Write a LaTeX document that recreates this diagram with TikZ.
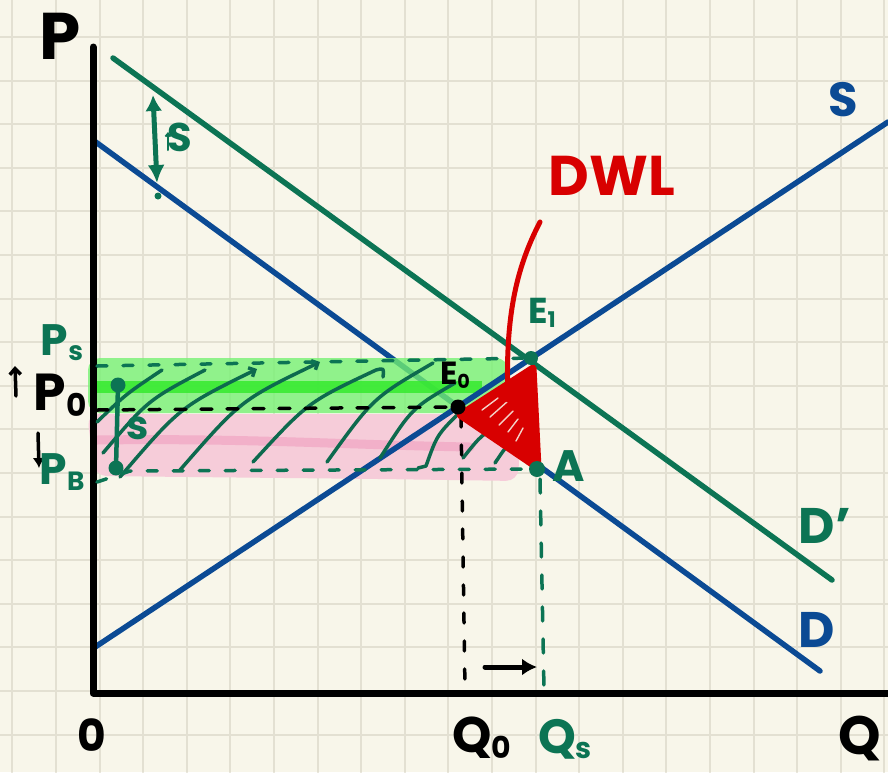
\documentclass[tikz,border=0pt]{standalone}
\usepackage{fontspec}
\setmainfont{Poppins}
\usetikzlibrary{arrows.meta,calc}
\definecolor{paper}{HTML}{F8F6EA}
\definecolor{gridc}{HTML}{E3E0D2}
\definecolor{eblue}{HTML}{0B4A94}
\definecolor{egreen}{HTML}{0C7454}
\definecolor{hgreen}{HTML}{0D6A4E}
\definecolor{ered}{HTML}{D80000}
\definecolor{bandg}{HTML}{74F271}
\definecolor{bandgg}{HTML}{35EA2E}
\definecolor{bandp}{HTML}{F6CCD9}
\definecolor{bandpp}{HTML}{F2B0C9}
\newcommand\myfs[1]{\fontsize{#1}{#1}\selectfont}
\newcommand\lsub[1]{\raisebox{-0.12em}{\scalebox{0.6}{#1}}}
\begin{document}
\begin{tikzpicture}[x=1pt,y=-1pt, line cap=round, line join=round,
  curve/.style={line width=5.5pt},
  lbl/.style={font=\bfseries\myfs{#1}, inner sep=0pt},
  hatch/.style={hgreen, line width=3.5pt},
  gdash/.style={egreen, line width=3.5pt, dash pattern=on 10pt off 16pt},
  kdash/.style={black, line width=3.5pt, dash pattern=on 11pt off 15pt},
  dotg/.style={fill=egreen},
]
\useasboundingbox (0,0) rectangle (888,772);
\fill[paper] (0,0) rectangle (888,772);
\foreach \i in {0,...,20} \draw[gridc, line width=2pt] ({12.3+43.6*\i},0) -- ({12.3+43.6*\i},772);
\foreach \i in {0,...,17} \draw[gridc, line width=2pt] (0,{734.6-43.6*\i}) -- (888,{734.6-43.6*\i});

% key points
\coordinate (E0) at (458,407);
\coordinate (E1) at (531,358);
\coordinate (A) at (537,469);
\coordinate (Sl) at (95.6,646.7);
\coordinate (Sr) at (888,122);
\coordinate (Dl) at (93,140);
\coordinate (Dr) at (820,671);
\coordinate (Dpl) at (113,58);
\coordinate (Dpr) at (832,580);
\coordinate (ytop) at (93,47);
\coordinate (orig) at (93,693);
\coordinate (xend) at (888,693);

% pink band
\fill[bandp, rounded corners=12pt] (87,414) -- (505,414) -- (520,440) -- (518,481) -- (380,479) -- (95,476) -- cycle;
\draw[bandpp, line width=9pt] (97,440) .. controls (250,438) and (350,445) .. (470,447);

% curves
\draw[curve, eblue] (Dl) -- (Dr);
\draw[curve, egreen] (Dpl) -- (Dpr);

% green band
\fill[bandg, opacity=0.78, rounded corners=12pt] (88,358) rectangle (508,413);
\fill[bandgg, opacity=0.85] (92,381) rectangle (482,393);

\draw[curve, eblue] (Sl) -- (Sr);

% axes
\draw[black, line width=7pt] (ytop) -- (orig) -- (xend);

% hatching
\draw[hatch] (97,422) .. controls (126,394) .. (162,370);
\draw[hatch] (103,453) .. controls (148,400) .. (205,370);
\draw[hatch, -{Straight Barb[length=5pt,width=10pt]}] (120,477) .. controls (180,407) .. (257,369);
\draw[hatch, -{Straight Barb[length=5pt,width=10pt]}] (180,470) .. controls (241,400) .. (320,362);
\draw[hatch] (253,462) .. controls (308,402) .. (376,370) .. controls (384,368) .. (383,377);
\draw[hatch] (327,462) .. controls (373,398) .. (433,363);
\draw[hatch] (380,458) .. controls (412,408) .. (455,383);
\draw[hatch] (418,468) -- (426,466) .. controls (437,435) .. (460,412);
\draw[hatch] (463,458) .. controls (482,434) .. (507,422);
\draw[hatch] (495,463) .. controls (507,445) .. (523,432);

% dashed price/quantity lines
\draw[gdash] (97,366) -- (E1);
\draw[kdash] (97,410) -- (E0);
\draw[gdash] (97,482) -- (130,471) -- (A);
\draw[black, line width=3.5pt, dash pattern=on 10pt off 18pt] ($(E0)+(3,10)$) -- (465,690);
\draw[egreen, line width=3.5pt, dash pattern=on 14pt off 18pt] ($(A)+(3,10)$) -- (544,690);
\coordinate (qa) at (485,667);
\coordinate (qb) at (537,667);
\draw[black, line width=5pt, -{Latex[length=15pt,width=17pt]}] (qa) -- (qb);

% DWL triangle and pointer
\coordinate (T1) at (460,415);
\coordinate (T2) at (533,368);
\coordinate (T3) at (538,468);
\fill[ered] (T1) -- (T2) -- (T3) -- cycle;
\draw[ered, line width=7pt] (T1) -- (T2) -- (T3) -- cycle;
\foreach \a/\b in {{(482,410)}/{(498,398)}, {(490,417)}/{(508,401)}, {(499,425)}/{(513,411)}, {(508,432)}/{(518,419)}, {(516,441)}/{(523,428)}}
  \draw[paper, line width=1.4pt, opacity=0.85] \a -- \b;
\coordinate (dwlt) at (540,222);
\draw[ered, line width=5pt] (dwlt) .. controls (515,270) and (505,320) .. (508,400);

% points
\fill[black] (E0) circle (7.5);
\fill[dotg] (E1) circle (7);
\fill[dotg] (A) circle (8);

% subsidy arrows
\coordinate (sa) at (118,385);
\coordinate (sb) at (116,468);
\draw[egreen, line width=4.5pt] (sa) -- (sb);
\fill[egreen] (sa) circle (7.5);
\fill[egreen] (sb) circle (7.5);
\coordinate (ta) at (153,95);
\coordinate (tb) at (157,183);
\draw[egreen, line width=5pt, {Latex[length=16pt,width=17pt]}-{Latex[length=18pt,width=17pt]}] (ta) -- (tb);
\fill[egreen] (158,196) circle (3.5);
\draw[egreen, line width=2pt, -{Straight Barb[length=3pt,width=5pt]}] (168,150) -- (168,132);

% small arrows near P0
\coordinate (ua) at (16,396);
\coordinate (ub) at (15,366);
\draw[black, line width=3.5pt, -{Straight Barb[length=6pt,width=11pt]}] (ua) -- (ub);
\coordinate (da) at (38,433);
\coordinate (db) at (39,468);
\draw[black, line width=3.5pt, -{Latex[length=10pt,width=12pt]}] (da) -- (db);

% labels
\node[lbl=66, black] (lP) at (60,36) {P};
\node[lbl=54, black] (lQ) at (860,738) {Q};
\node[lbl=44, black] (lO) at (92,735) {0};
\node[lbl=50, black] (lQ0) at (482,738) {Q\lsub{0}};
\node[lbl=48, egreen] (lQs) at (565,739) {Q\lsub{s}};
\node[lbl=48, eblue] (lS) at (843,100) {S};
\node[lbl=50, eblue] (lD) at (817,630) {D};
\node[lbl=50, egreen] (lDp) at (825,526) {D'};
\node[lbl=56, ered] (lDWL) at (612,176) {DWL};
\node[lbl=36, egreen] (lE1) at (542,313) {E\lsub{1}};
\node[lbl=32, black] (lE0) at (455,375) {E\lsub{0}};
\node[lbl=44, egreen] (lA) at (569,466) {A};
\node[lbl=44, egreen] (lPs) at (62,343) {P\lsub{s}};
\node[lbl=52, black] (lP0) at (60,395) {P\lsub{0}};
\node[lbl=44, egreen] (lPB) at (62,472) {P\lsub{B}};
\node[lbl=40, egreen] (ls1) at (138,428) {s};
\node[lbl=40, egreen] (ls2) at (180,137) {S};
\end{tikzpicture}
\end{document}
